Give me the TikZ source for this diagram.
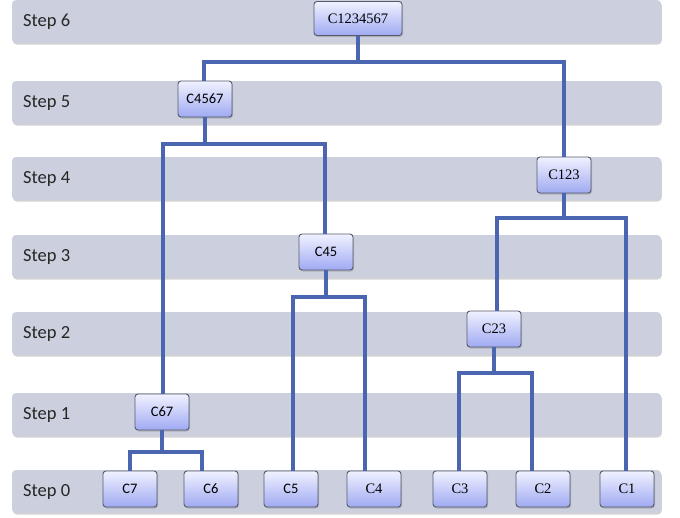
\documentclass[tikz,border=0pt]{standalone}
\usepackage{fontspec}
\setmainfont{Liberation Serif}
\newfontfamily\calib{Carlito}
\usetikzlibrary{shadows}
\definecolor{bandfill}{HTML}{CCD0DE}
\definecolor{linkblue}{HTML}{4A66B0}
\definecolor{nodetop}{HTML}{F0F2FF}
\definecolor{nodebot}{HTML}{9FAAF2}
\definecolor{nodeedge}{HTML}{555A6A}
\tikzset{
  band/.style={fill=bandfill, rounded corners=4pt,
    drop shadow={shadow xshift=0.8pt, shadow yshift=-1.5pt, opacity=0.35}},
  steplabel/.style={font=\calib\fontsize{18.5}{20}\selectfont, text=black!85, anchor=west, inner sep=0pt},
  clus/.style={draw=nodeedge, line width=0.9pt, rounded corners=3pt,
    top color=nodetop, bottom color=nodebot, minimum width=54pt, minimum height=36pt, inner sep=0pt,
    drop shadow={shadow xshift=1pt, shadow yshift=-1.5pt, opacity=0.4}},
  sanslab/.style={clus, font=\calib\fontsize{14.5}{16}\selectfont},
  seriflab/.style={clus, font=\fontsize{14.5}{16}\selectfont},
  link/.style={draw=linkblue, line width=3.2pt},
}
\begin{document}
\begin{tikzpicture}[x=1pt,y=-1pt]
\useasboundingbox (0,0) rectangle (680,517);
% bands
\foreach \t/\s in {0/6,81/5,157/4,235/3,312/2,393/1,470/0}{
  \path[band] (12,\t) rectangle (661,\t+43);
  \node[steplabel] (lab\s) at (23,\t+21.5) {Step \s};
}
% junction points of the dendrogram
\coordinate (j6) at (358,62);
\coordinate (j5) at (205,144);
\coordinate (j4) at (564,218);
\coordinate (j3) at (326,297);
\coordinate (j2) at (494,373);
\coordinate (j1) at (162,452);
% nodes
\node[seriflab, minimum width=88pt, minimum height=34pt] (c1234567) at (358,18.5) {C1234567};
\node[sanslab] (c4567) at (205,99) {C4567};
\node[seriflab] (c123) at (564,175) {C123};
\node[sanslab] (c45) at (326,252) {C45};
\node[seriflab] (c23) at (494,329) {C23};
\node[sanslab] (c67) at (162,412) {C67};
\node[sanslab] (c7) at (130,489) {C7};
\node[sanslab] (c6) at (211,489) {C6};
\node[sanslab] (c5) at (291,489) {C5};
\node[seriflab] (c4) at (374,489) {C4};
\node[seriflab] (c3) at (460,489) {C3};
\node[seriflab] (c2) at (543,489) {C2};
\node[seriflab] (c1) at (627,489) {C1};
% connectors
\draw[link] (c1234567.south) -- (j6);
\draw[link] ([xshift=-1pt]c4567.north) |- (j6) -| (c123.north);
\draw[link] (c4567.south) -- (j5);
\draw[link] ([xshift=1pt]c67.north) |- (j5) -| ([xshift=-1pt]c45.north);
\draw[link] (c123.south) -- (j4);
\draw[link] ([xshift=3pt]c23.north) |- (j4) -| ([xshift=-1pt]c1.north);
\draw[link] (c45.south) -- (j3);
\draw[link] ([xshift=2pt]c5.north) |- (j3) -| ([xshift=-9pt]c4.north);
\draw[link] (c23.south) -- (j2);
\draw[link] ([xshift=-1pt]c3.north) |- (j2) -| ([xshift=-11pt]c2.north);
\draw[link] (c67.south) -- (j1);
\draw[link] (c7.north) |- (j1) -| ([xshift=-9pt]c6.north);
\end{tikzpicture}
\end{document}
